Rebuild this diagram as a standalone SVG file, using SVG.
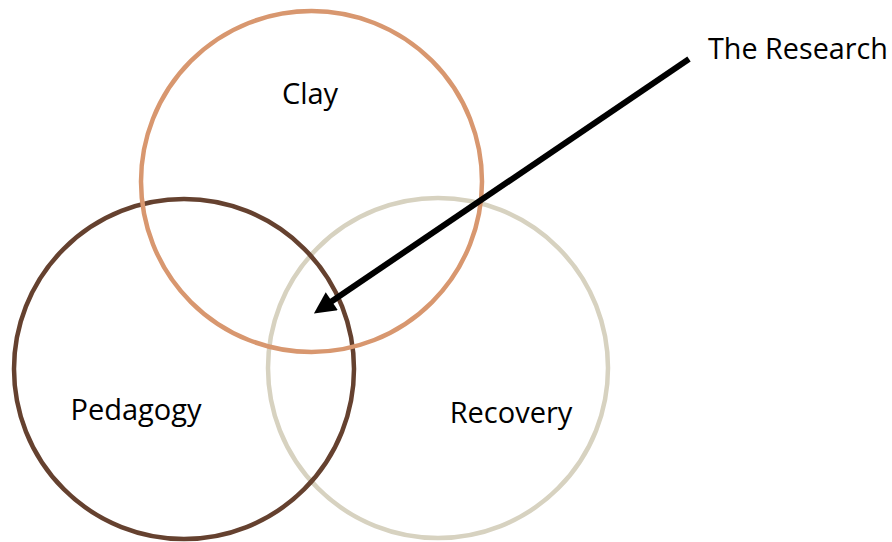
<svg xmlns="http://www.w3.org/2000/svg" width="892" height="542" viewBox="0 0 892 542">
  <defs>
    <marker id="arrowHead" viewBox="0 0 10 10" refX="1" refY="5" markerWidth="4" markerHeight="3.6" markerUnits="strokeWidth" orient="auto">
      <path d="M0,0 L10,5 L0,10 z" fill="#000"/>
    </marker>
    <style>
      .ring { fill: none; stroke-width: 4.5; }
      .label { font-family: "Open Sans", "Liberation Sans", sans-serif; font-size: 29px; fill: #000; }
    </style>
  </defs>
  <rect width="892" height="542" fill="#fff"/>

  <g id="recovery">
    <circle class="ring" cx="438" cy="368" r="170" stroke="#D7D2C0"/>
    <text class="label" x="511" y="423" text-anchor="middle">Recovery</text>
  </g>
  <g id="pedagogy">
    <circle class="ring" cx="184" cy="369" r="170" stroke="#65412F"/>
    <text class="label" x="136" y="420" text-anchor="middle">Pedagogy</text>
  </g>
  <g id="clay">
    <circle class="ring" cx="311.5" cy="181.5" r="170.5" stroke="#D8976F"/>
    <text class="label" x="310" y="104" text-anchor="middle">Clay</text>
  </g>
  <g id="the-research">
    <text class="label" x="708" y="59" textLength="180" lengthAdjust="spacingAndGlyphs">The Research</text>
  </g>

  <g id="connectors">
    <line x1="689" y1="59" x2="330" y2="302.5" stroke="#000" stroke-width="6" marker-end="url(#arrowHead)"/>
  </g>
</svg>
